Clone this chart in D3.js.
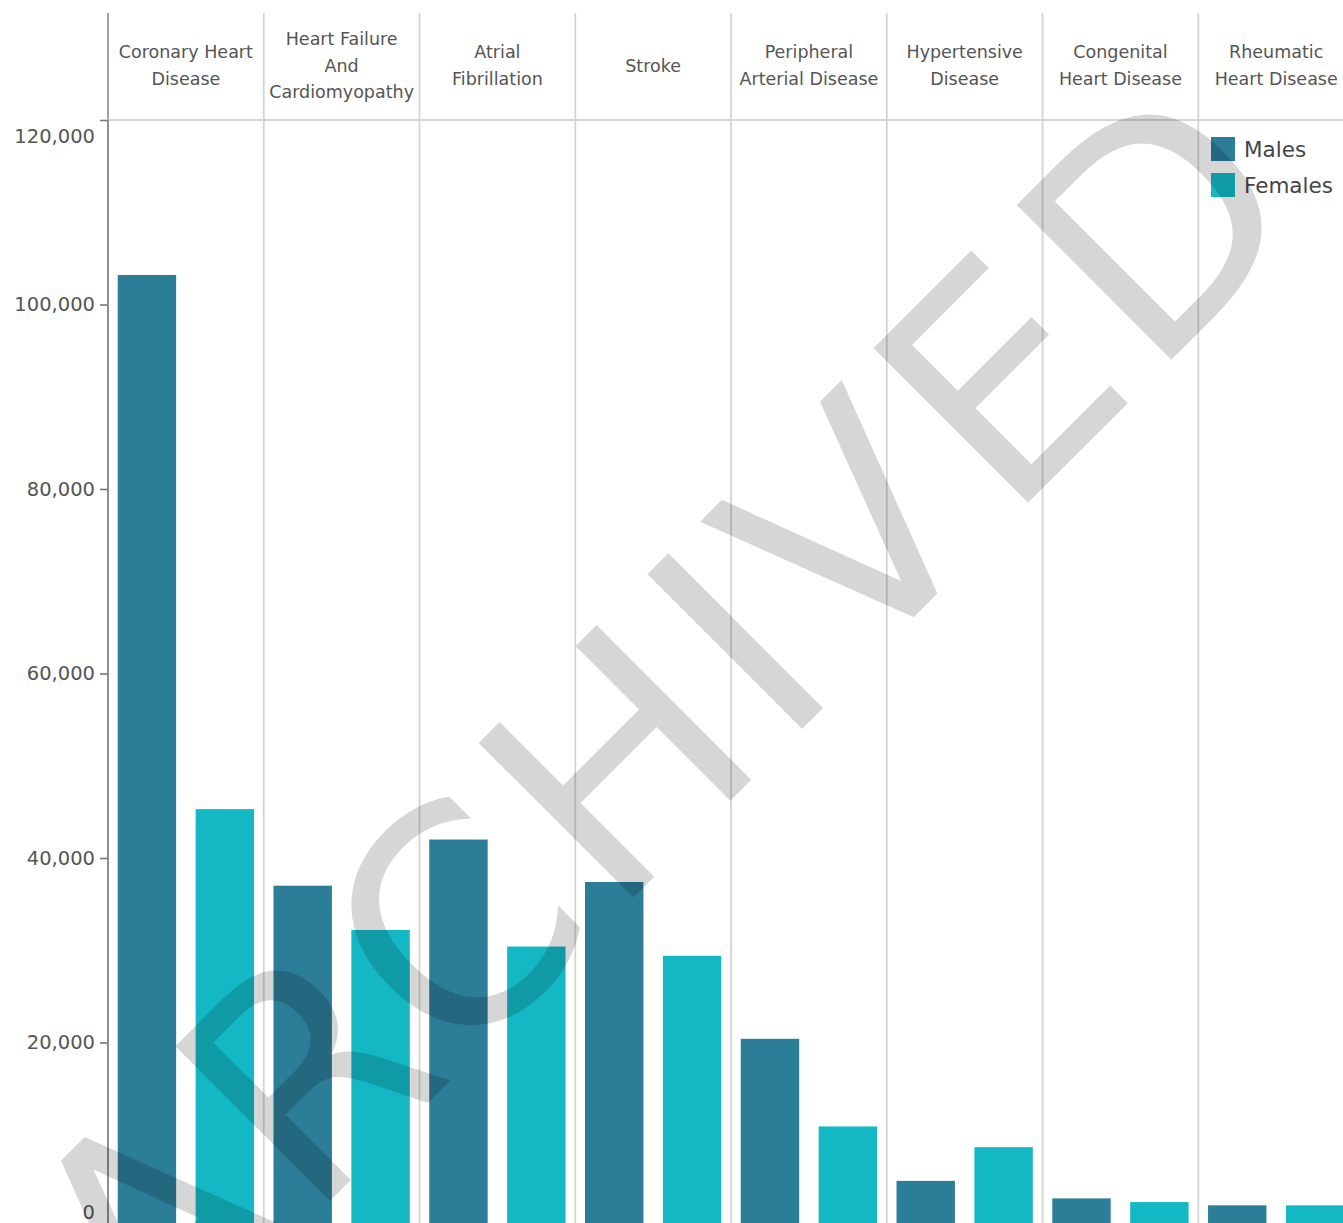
<!DOCTYPE html>
<html>
<head>
<meta charset="utf-8">
<script src="https://cdn.jsdelivr.net/npm/d3@7"></script>
<style>
  html, body { margin: 0; padding: 0; background: #fff; overflow: hidden; }
  svg { display: block; }
</style>
</head>
<body>
<svg id="chart" width="1343" height="1223"></svg>
<script>
// Cardiovascular disease cases by condition and sex
const conditions = [
  "Coronary Heart Disease",
  "Heart Failure And Cardiomyopathy",
  "Atrial Fibrillation",
  "Stroke",
  "Peripheral Arterial Disease",
  "Hypertensive Disease",
  "Congenital Heart Disease",
  "Rheumatic Heart Disease"
];
// header lines for each condition column
const headerLines = [
  ["Coronary Heart", "Disease"],
  ["Heart Failure", "And", "Cardiomyopathy"],
  ["Atrial", "Fibrillation"],
  ["Stroke"],
  ["Peripheral", "Arterial Disease"],
  ["Hypertensive", "Disease"],
  ["Congenital", "Heart Disease"],
  ["Rheumatic", "Heart Disease"]
];
const sexes = ["Males", "Females"];
const males   = [103200, 37000, 42000, 37400, 20400, 5000, 3100, 2350];
const females = [45300, 32200, 30400, 29400, 10900, 8650, 2700, 2350];
const yTicks = [0, 20000, 40000, 60000, 80000, 100000, 120000];
const watermark = "ARCHIVED";

const colors = { Males: "#2c7d98", Females: "#14b8c5" };

const svg = d3.select("#chart");
const FONT = "'DejaVu Sans', sans-serif";

// layout
const plotLeft = 108, plotTop = 120, headerTop = 13;
const colWidth = 155.76;
const yZero = 1227;

const x = d3.scaleBand()
  .domain(conditions)
  .range([plotLeft, plotLeft + colWidth * conditions.length])
  .padding(0);

const xSex = d3.scaleBand()
  .domain(sexes)
  .range([0, x.bandwidth()])
  .paddingInner(0.25)
  .paddingOuter(0.125);

const y = d3.scaleLinear().domain([0, 120000]).range([yZero, plotTop]);

const rows = conditions.map((c, i) => ({ condition: c, Males: males[i], Females: females[i] }));

// header separators and column separators
const grid = svg.append("g");
conditions.forEach((c, i) => {
  const xv = x(c);
  grid.append("line")
    .attr("x1", xv).attr("x2", xv)
    .attr("y1", headerTop).attr("y2", 1240)
    .attr("stroke", i === 0 ? "#8a8a8a" : "#d4d4d4")
    .attr("stroke-width", i === 0 ? 1.6 : 1.8);
});
grid.append("line")
  .attr("x1", plotLeft).attr("x2", 1343)
  .attr("y1", plotTop).attr("y2", plotTop)
  .attr("stroke", "#d4d4d4").attr("stroke-width", 2);

// column headers
const headers = svg.append("g")
  .attr("font-family", FONT)
  .attr("font-size", 17.5)
  .attr("fill", "#555")
  .attr("text-anchor", "middle");
conditions.forEach((c, i) => {
  const lines = headerLines[i];
  const lh = 26.5;
  const cy = 66.5;
  const startY = cy - (lines.length - 1) * lh / 2;
  const t = headers.append("text")
    .attr("x", x(c) + x.bandwidth() / 2)
    .attr("y", startY)
    .attr("dominant-baseline", "middle");
  lines.forEach((ln, j) => {
    t.append("tspan")
      .attr("x", x(c) + x.bandwidth() / 2)
      .attr("y", startY + j * lh)
      .text(ln);
  });
});

// bars
const groups = svg.append("g").selectAll("g")
  .data(rows)
  .join("g")
  .attr("transform", d => `translate(${x(d.condition)},0)`);

groups.selectAll("rect")
  .data(d => sexes.map(s => ({ sex: s, value: d[s] })))
  .join("rect")
  .attr("x", d => xSex(d.sex))
  .attr("width", xSex.bandwidth())
  .attr("y", d => y(d.value))
  .attr("height", d => yZero - y(d.value))
  .attr("fill", d => colors[d.sex]);

// y axis
const yAxis = d3.axisLeft(y)
  .tickValues(yTicks)
  .tickFormat(d3.format(","))
  .tickSize(8)
  .tickPadding(5);

const ax = svg.append("g")
  .attr("transform", `translate(${plotLeft},0)`)
  .call(yAxis);
ax.select(".domain").remove();
ax.append("line")
  .attr("x1", 0).attr("x2", 0)
  .attr("y1", plotTop).attr("y2", 1240)
  .attr("stroke", "#8a8a8a").attr("stroke-width", 1.6);
ax.selectAll(".tick line").attr("stroke", "#777").attr("stroke-width", 1.6);
ax.selectAll(".tick text")
  .attr("font-family", FONT)
  .attr("font-size", 19.5)
  .attr("fill", "#555")
  .attr("dy", d => d === 120000 ? "1.15em" : (d === 0 ? "-0.45em" : "0.32em"));

// legend
const legend = svg.append("g")
  .attr("transform", "translate(1211,137)");
sexes.forEach((s, i) => {
  const g = legend.append("g").attr("transform", `translate(0,${i * 36})`);
  g.append("rect")
    .attr("width", 24).attr("height", 24)
    .attr("fill", colors[s]);
  g.append("text")
    .attr("x", 33).attr("y", 14)
    .attr("dominant-baseline", "middle")
    .attr("font-family", FONT)
    .attr("font-size", 21.5)
    .attr("fill", "#444")
    .text(s);
});

// watermark stamp across the plot
svg.append("text")
  .attr("transform", "translate(739,792) rotate(-45)")
  .attr("text-anchor", "middle")
  .attr("font-family", FONT)
  .attr("font-size", 300)
  .attr("letter-spacing", 13)
  .attr("fill", "#000")
  .attr("fill-opacity", 0.16)
  .text(watermark);
</script>
</body>
</html>
